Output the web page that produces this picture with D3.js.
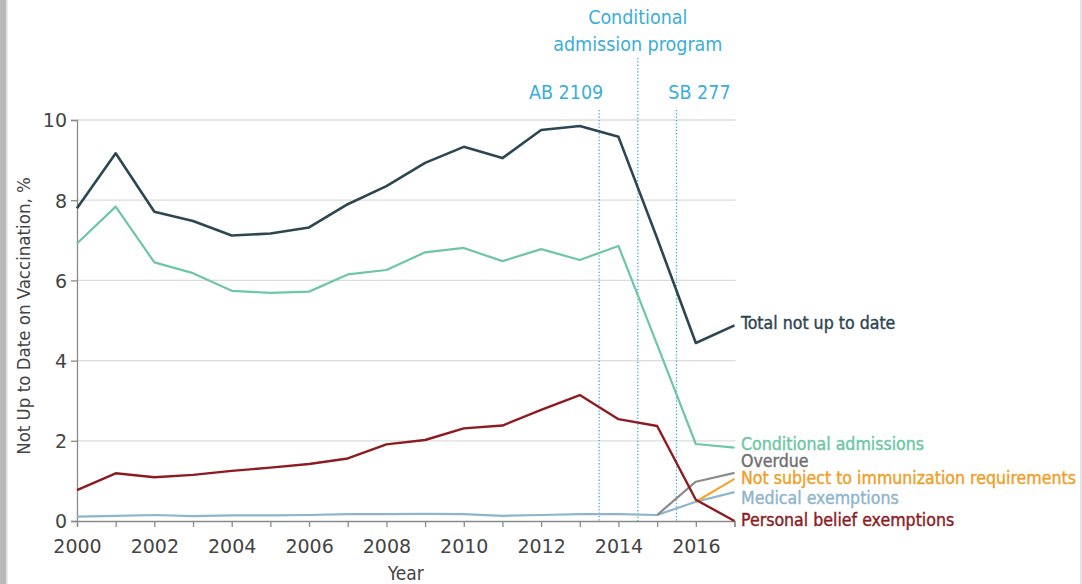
<!DOCTYPE html>
<html><head><meta charset="utf-8">
<script src="https://cdn.jsdelivr.net/npm/d3@7"></script>
<style>
html,body{margin:0;padding:0;background:#fff;}
svg{display:block;font-family:"DejaVu Sans Condensed","Liberation Sans Narrow","Noto Sans",sans-serif;}
</style></head>
<body><svg id="c" width="1082" height="584"></svg>
<script>
const years = [2000,2001,2002,2003,2004,2005,2006,2007,2008,2009,2010,2011,2012,2013,2014,2015,2016,2017];
const totalNotUpToDate = [7.8,9.17,7.71,7.48,7.12,7.17,7.32,7.9,8.35,8.93,9.33,9.05,9.75,9.85,9.58,7.05,4.44,4.88];
const conditionalAdmissions = [6.92,7.84,6.45,6.18,5.74,5.69,5.72,6.15,6.26,6.7,6.81,6.48,6.78,6.51,6.86,4.4,1.92,1.83];
const personalBelief = [0.77,1.19,1.09,1.15,1.25,1.33,1.42,1.56,1.91,2.02,2.31,2.38,2.77,3.14,2.54,2.37,0.53,0.0];
const medicalExemptions = [0.11,0.13,0.15,0.12,0.14,0.14,0.15,0.17,0.17,0.18,0.17,0.13,0.15,0.17,0.17,0.15,0.48,0.72];
const overdueYears = [2015,2016,2017];
const overdue = [0.15,0.98,1.2];
const notSubjectYears = [2016,2017];
const notSubject = [0.48,1.05];
const yTicks = [0,2,4,6,8,10];
const xTickLabels = [2000,2002,2004,2006,2008,2010,2012,2014,2016];
const events = [{year:2013.5,label:["AB 2109"]},{year:2014.5,label:["Conditional","admission program"]},{year:2015.5,label:["SB 277"]}];

const svg = d3.select("#c");
const x = d3.scaleLinear().domain([2000,2017]).range([77,734.5]);
const y = d3.scaleLinear().domain([0,10]).range([521,120]);

// frame
svg.append("rect").attr("x",0).attr("y",0).attr("width",6).attr("height",584).attr("fill","#b9b9b9");
svg.append("rect").attr("x",6).attr("y",0).attr("width",1.5).attr("height",584).attr("fill","#dcdcdc");
svg.append("rect").attr("x",1080).attr("y",0).attr("width",2).attr("height",584).attr("fill","#e4e4e4");

// grid
svg.append("g").selectAll("line").data(yTicks.filter(d=>d>0)).join("line")
  .attr("x1",x(2000)).attr("x2",x(2017)+1).attr("y1",d=>y(d)).attr("y2",d=>y(d))
  .attr("stroke","#dcdcdc").attr("stroke-width",1.3);

// event lines
const evColor = "#3aaed8";
events.forEach(e=>{
  const top = e.label.length>1 ? 58 : 110;
  svg.append("line").attr("x1",x(e.year)).attr("x2",x(e.year)).attr("y1",top).attr("y2",y(0))
    .attr("stroke",evColor).attr("stroke-width",1.3).attr("stroke-dasharray","1.3,2");
});
const evText = svg.append("g").attr("fill",evColor).attr("font-size",19.5).attr("text-anchor","middle");
evText.append("text").attr("x",x(2014.5)).attr("y",24).text("Conditional");
evText.append("text").attr("x",x(2014.5)).attr("y",51).text("admission program");
evText.append("text").attr("x",x(2013.5)-33).attr("y",99).text("AB 2109");
evText.append("text").attr("x",x(2015.5)+23).attr("y",99).text("SB 277");

// axes
const axisColor = "#8a8a8a";
const yAxis = svg.append("g").attr("transform",`translate(${x(2000)},0)`)
  .call(d3.axisLeft(y).tickValues(yTicks).tickSize(6).tickFormat(d3.format("d")));
const xAxis = svg.append("g").attr("transform",`translate(0,${y(0)})`)
  .call(d3.axisBottom(x).tickValues(years).tickSize(6).tickFormat(d=>xTickLabels.includes(d)?String(d):""));
[yAxis,xAxis].forEach(a=>{
  a.select(".domain").attr("stroke",axisColor).attr("stroke-width",1.3);
  a.selectAll(".tick line").attr("stroke",axisColor).attr("stroke-width",1.3);
  a.selectAll(".tick text").attr("fill","#444").attr("font-size",19)
    .attr("font-family","'DejaVu Sans',sans-serif");
});
yAxis.selectAll(".tick text").attr("dx",-1).attr("dy","0.36em");
xAxis.selectAll(".tick text").attr("dy","1.2em");

svg.append("text").attr("x",x(2008.5)).attr("y",580).attr("text-anchor","middle")
  .attr("fill","#444").attr("font-size",19).text("Year");
svg.append("text").attr("transform",`translate(30,316) rotate(-90)`).attr("text-anchor","middle")
  .attr("fill","#444").attr("font-size",18.5)
  .text("Not Up to Date on Vaccination, %");

// lines
const line = d3.line().x(d=>x(d[0])).y(d=>y(d[1]));
function draw(xs, vs, color, w){
  svg.append("path").datum(xs.map((yr,i)=>[yr,vs[i]])).attr("d",line)
    .attr("fill","none").attr("stroke",color).attr("stroke-width",w).attr("stroke-linejoin","round");
}
const C = {total:"#2d4653", cond:"#6ec6a6", pbe:"#8c1b22", med:"#8fb5cb", over:"#8b8b8b", ns:"#f2a531"};
draw(years, medicalExemptions, C.med, 2.2);
draw(overdueYears, overdue, C.over, 2.2);
draw(notSubjectYears, notSubject, C.ns, 2.2);
draw(years, personalBelief, C.pbe, 2.4);
draw(years, conditionalAdmissions, C.cond, 2.2);
draw(years, totalNotUpToDate, C.total, 2.6);

// labels
const labels = [
  {t:"Total not up to date", c:C.total, y:323},
  {t:"Conditional admissions", c:C.cond, y:444},
  {t:"Overdue", c:"#6f6f6f", y:461},
  {t:"Not subject to immunization requirements", c:"#eea028", y:478},
  {t:"Medical exemptions", c:C.med, y:498},
  {t:"Personal belief exemptions", c:C.pbe, y:520}
];
svg.append("g").selectAll("text").data(labels).join("text")
  .attr("x",741).attr("y",d=>d.y).attr("dy","0.34em").attr("fill",d=>d.c)
  .attr("stroke",d=>d.c).attr("stroke-width",0.4)
  .attr("font-size",17.6).text(d=>d.t);
</script></body></html>
